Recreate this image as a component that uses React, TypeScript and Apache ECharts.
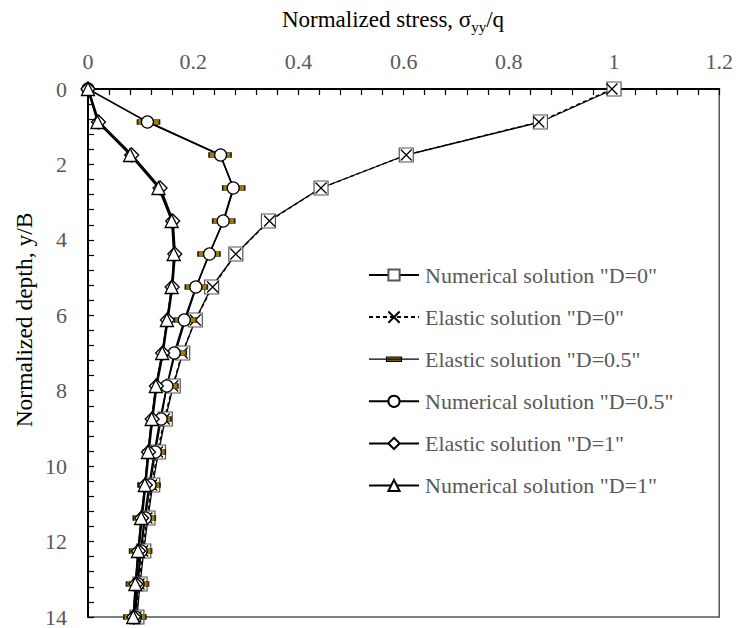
import React, { useEffect, useRef } from "react";
import * as echarts from "echarts";

// ---- data ----
const depth = [0, 0.875, 1.75, 2.625, 3.5, 4.375, 5.25, 6.125, 7, 7.875, 8.75, 9.625, 10.5, 11.375, 12.25, 13.125, 14];
const numericalD0 = [1.0, 0.86, 0.605, 0.443, 0.343, 0.281, 0.235, 0.204, 0.18, 0.162, 0.147, 0.134, 0.123, 0.114, 0.106, 0.099, 0.093];
const elasticD0 = [0.996, 0.857, 0.605, 0.443, 0.345, 0.281, 0.237, 0.204, 0.179, 0.161, 0.145, 0.132, 0.121, 0.112, 0.104, 0.097, 0.091];
const elasticD05 = [null, 0.115, 0.251, 0.277, 0.258, 0.23, 0.206, 0.185, 0.166, 0.15, 0.137, 0.126, 0.116, 0.107, 0.1, 0.094, 0.089];
const numericalD05 = [0, 0.113, 0.252, 0.276, 0.257, 0.231, 0.205, 0.183, 0.164, 0.15, 0.139, 0.128, 0.118, 0.109, 0.101, 0.095, 0.09];
const elasticD1 = [0, 0.02, 0.083, 0.137, 0.161, 0.165, 0.16, 0.151, 0.142, 0.13, 0.122, 0.115, 0.109, 0.102, 0.096, 0.091, 0.087];
const numericalD1 = [0, 0.018, 0.08, 0.134, 0.159, 0.163, 0.159, 0.15, 0.141, 0.129, 0.121, 0.114, 0.108, 0.101, 0.095, 0.09, 0.086];

const seriesNames = [
  'Numerical solution "D=0"',
  'Elastic solution "D=0"',
  'Elastic solution "D=0.5"',
  'Numerical solution "D=0.5"',
  'Elastic solution "D=1"',
  'Numerical solution "D=1"',
];

const xRange = { min: 0, max: 1.2, step: 0.2 };
const yRange = { min: 0, max: 14, step: 2 };

const FONT = "'Liberation Serif', 'Times New Roman', serif";
const GRAY = "#595959";

const pairs = (xs: (number | null)[]) =>
  xs.map((x, i) => [x, depth[i]]).filter((p) => p[0] !== null);

export default function App() {
  const ref = useRef<HTMLDivElement>(null);

  useEffect(() => {
    if (!ref.current) return;
    const chart = echarts.init(ref.current, undefined, { renderer: "svg" });

    const base = {
      type: "line" as const,
      clip: false,
      showSymbol: true,
    };

    const option: any = {
      animation: false,
      backgroundColor: "#fff",
      grid: {
        left: 88,
        right: 15,
        top: 89,
        bottom: 11,
        show: true,
        borderColor: "#555",
        borderWidth: 1.5,
        backgroundColor: "transparent",
      },
      xAxis: {
        type: "value",
        position: "top",
        min: xRange.min,
        max: xRange.max,
        interval: xRange.step,
        axisLine: { show: true, lineStyle: { color: "#000", width: 2 } },
        axisTick: { show: true, inside: true, length: 6, lineStyle: { color: "#000", width: 1.2 } },
        minorTick: { show: true, splitNumber: 5, length: 6, lineStyle: { color: "#000", width: 1.2 } },
        splitLine: { show: false },
        axisLabel: { color: GRAY, fontSize: 22, fontFamily: FONT, margin: 17 },
      },
      yAxis: {
        type: "value",
        inverse: true,
        min: yRange.min,
        max: yRange.max,
        interval: yRange.step,
        axisLine: { show: true, lineStyle: { color: "#000", width: 2 } },
        axisTick: { show: true, inside: true, length: 6, lineStyle: { color: "#000", width: 1.2 } },
        minorTick: { show: true, splitNumber: 5, length: 6, lineStyle: { color: "#000", width: 1.2 } },
        splitLine: { show: false },
        axisLabel: { color: GRAY, fontSize: 22, fontFamily: FONT, margin: 21 },
      },
      legend: {
        orient: "vertical",
        left: 363,
        top: 259,
        padding: 5,
        itemGap: 20.1,
        itemWidth: 50,
        itemHeight: 14,
        textStyle: { color: GRAY, fontSize: 22, fontFamily: FONT, padding: [0, 0, 0, 1] },
        data: [
          { name: seriesNames[0] },
          { name: seriesNames[1] },
          { name: seriesNames[2], icon: "path://M0,7L50,7M17.5,4.8h15v4.4h-15z", itemStyle: { borderWidth: 1.2, borderColor: "#000" } },
          { name: seriesNames[3] },
          { name: seriesNames[4] },
          { name: seriesNames[5] },
        ],
      },
      graphic: [
        {
          type: "text",
          x: 393,
          y: 19,
          style: {
            text: "{n|Normalized stress, σ}{s|yy}{n|/q}",
            align: "center",
            verticalAlign: "middle",
            fill: "#000",
            fontFamily: FONT,
            rich: {
              n: { fontSize: 23, lineHeight: 31, fontFamily: FONT, fill: "#000", verticalAlign: "middle" },
              s: { fontSize: 15, lineHeight: 15, fontFamily: FONT, fill: "#000", verticalAlign: "bottom" },
            },
          },
        },
        {
          type: "text",
          x: 24,
          y: 320,
          rotation: Math.PI / 2,
          style: {
            text: "Normalized depth, y/B",
            align: "center",
            verticalAlign: "middle",
            fill: "#000",
            fontSize: 23.5,
            fontFamily: FONT,
          },
        },
      ],
      series: [
        {
          ...base,
          name: seriesNames[0],
          data: pairs(numericalD0),
          symbol: "rect",
          symbolSize: 14,
          itemStyle: { color: "#fff", borderColor: "#555", borderWidth: 1.2 },
          lineStyle: { color: "#000", width: 1.3 },
        },
        {
          ...base,
          name: seriesNames[1],
          data: pairs(elasticD0),
          symbol: "path://M0,0L10,10M10,0L0,10",
          symbolSize: 11,
          itemStyle: { color: "#fff", borderColor: "#000", borderWidth: 1.3 },
          lineStyle: { color: "#000", width: 1.3, type: [4, 3] },
        },
        {
          ...base,
          name: seriesNames[2],
          data: pairs(elasticD05),
          symbol: "rect",
          symbolSize: [22, 5],
          itemStyle: { color: "#9C7A0C", borderColor: "#2a2000", borderWidth: 0.8 },
          lineStyle: { color: "#000", width: 1.5 },
        },
        {
          ...base,
          name: seriesNames[3],
          data: pairs(numericalD05),
          symbol: "circle",
          symbolSize: 12,
          itemStyle: { color: "#fff", borderColor: "#000", borderWidth: 1.3 },
          lineStyle: { color: "#000", width: 1.5 },
        },
        {
          ...base,
          name: seriesNames[4],
          data: pairs(elasticD1),
          symbol: "diamond",
          symbolSize: 14,
          itemStyle: { color: "#fff", borderColor: "#000", borderWidth: 1.3 },
          lineStyle: { color: "#000", width: 2.5 },
        },
        {
          ...base,
          name: seriesNames[5],
          data: pairs(numericalD1),
          symbol: "triangle",
          symbolSize: 13,
          itemStyle: { color: "#fff", borderColor: "#000", borderWidth: 1.3 },
          lineStyle: { color: "#000", width: 1.5 },
        },
      ],
    };

    chart.setOption(option);
    return () => chart.dispose();
  }, []);

  return (
    <div
      ref={ref}
      style={{ position: "absolute", left: 0, top: 0, width: 736, height: 628 }}
    />
  );
}
